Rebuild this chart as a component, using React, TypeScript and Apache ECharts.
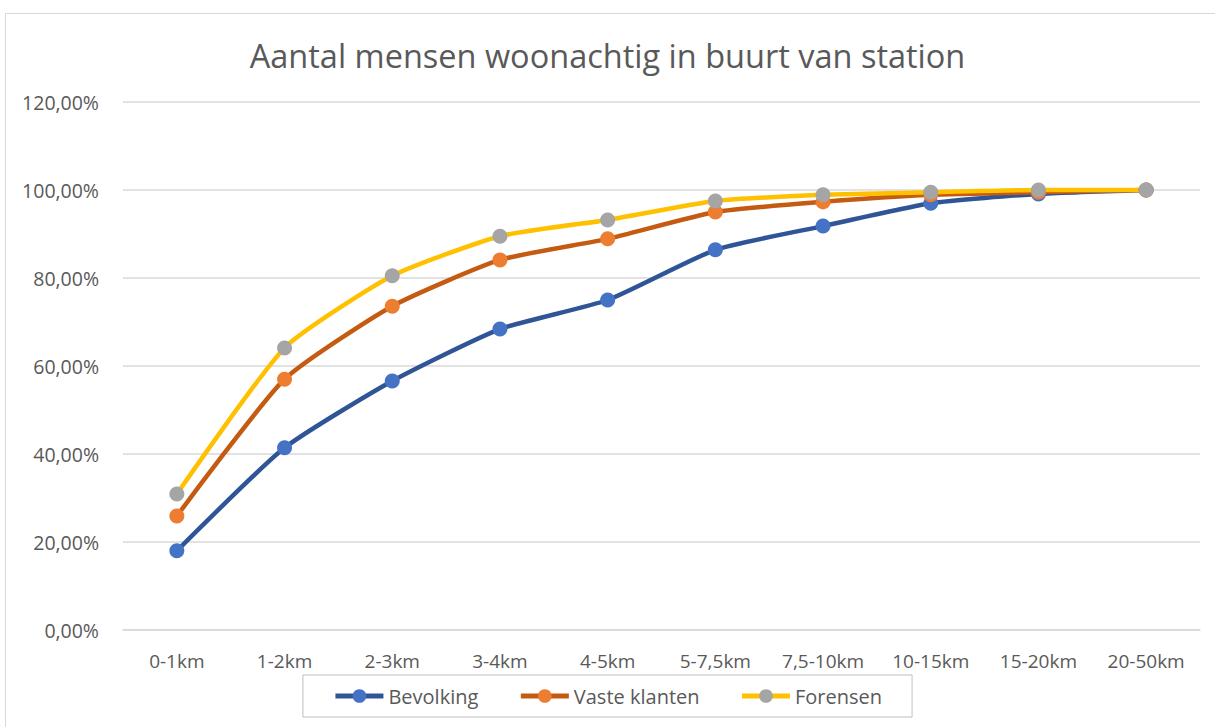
import React, { useEffect, useRef } from "react";
import * as echarts from "echarts";

const categories = ["0-1km", "1-2km", "2-3km", "3-4km", "4-5km", "5-7,5km", "7,5-10km", "10-15km", "15-20km", "20-50km"];
const bevolking = [0.18, 0.414, 0.566, 0.684, 0.75, 0.864, 0.918, 0.97, 0.991, 1.0];
const vasteKlanten = [0.259, 0.57, 0.736, 0.841, 0.889, 0.95, 0.973, 0.989, 0.995, 1.0];
const forensen = [0.309, 0.641, 0.805, 0.895, 0.932, 0.975, 0.989, 0.995, 1.0, 1.0];
const seriesNames = ["Bevolking", "Vaste klanten", "Forensen"];

const FONT = "'Open Sans', 'Noto Sans', sans-serif";

export default function App() {
  const ref = useRef<HTMLDivElement>(null);
  useEffect(() => {
    if (!ref.current) return;
    const chart = echarts.init(ref.current, undefined, { renderer: "svg" });
    const mk = (name: string, data: number[], line: string, marker: string) => ({
      name,
      type: "line",
      data,
      smooth: 0.18,
      symbol: "circle",
      symbolSize: 15,
      lineStyle: { color: line, width: 4.5 },
      itemStyle: { color: marker, borderWidth: 0 },
      z: 2,
    });
    chart.setOption({
      animation: false,
      backgroundColor: "#ffffff",
      textStyle: { fontFamily: FONT },
      title: {
        text: "Aantal mensen woonachtig in buurt van station",
        left: "center",
        top: 34,
        textStyle: { fontFamily: FONT, fontSize: 32.5, fontWeight: "normal", color: "#595959" },
      },
      graphic: [
        {
          type: "rect",
          shape: { x: 5.5, y: 13.5, width: 1220, height: 730 },
          style: { fill: "none", stroke: "#d9d9d9", lineWidth: 1 },
          silent: true,
        },
      ],
      legend: {
        data: seriesNames,
        left: "center",
        top: 675,
        itemWidth: 48,
        itemHeight: 17,
        itemGap: 40,
        padding: [11, 30, 11, 30],
        borderColor: "#bfbfbf",
        borderWidth: 1,
        lineStyle: { width: 5 },
        textStyle: { fontFamily: FONT, fontSize: 20, color: "#595959" },
      },
      grid: { left: 123, right: 15, top: 102, bottom: 97 },
      xAxis: {
        type: "category",
        data: categories,
        boundaryGap: true,
        axisLine: { lineStyle: { color: "#d9d9d9", width: 1.5 } },
        axisTick: { show: false },
        axisLabel: { interval: 0, fontFamily: FONT, fontSize: 19, color: "#595959", margin: 21 },
      },
      yAxis: {
        type: "value",
        min: 0,
        max: 1.2,
        interval: 0.2,
        axisLine: { show: false },
        axisTick: { show: false },
        splitLine: { lineStyle: { color: "#d9d9d9", width: 1.5 } },
        axisLabel: {
          fontFamily: FONT,
          fontSize: 19.5,
          color: "#595959",
          margin: 24,
          formatter: (v: number) => (v * 100).toFixed(2).replace(".", ",") + "%",
        },
      },
      series: [
        mk(seriesNames[0], bevolking, "#2F5597", "#4472C4"),
        mk(seriesNames[1], vasteKlanten, "#C55A11", "#ED7D31"),
        mk(seriesNames[2], forensen, "#FFC000", "#A5A5A5"),
      ],
    });
    return () => chart.dispose();
  }, []);
  return (
    <div
      ref={ref}
      style={{ position: "fixed", left: 0, top: 0, width: 1215, height: 727 }}
    />
  );
}
